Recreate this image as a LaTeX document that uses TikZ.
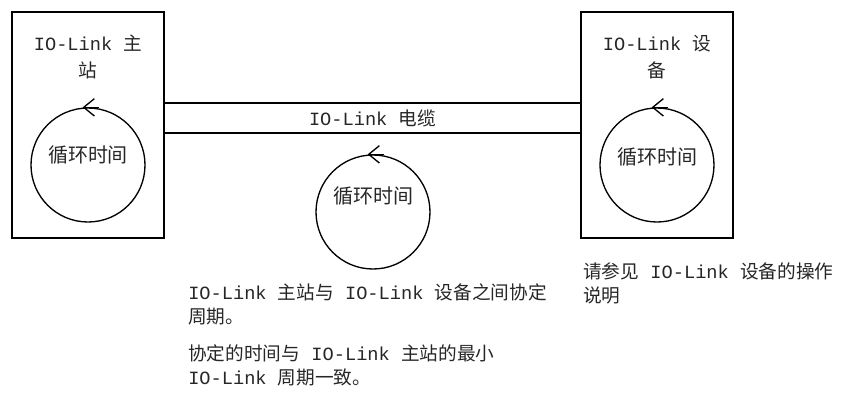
\documentclass[tikz,border=0pt]{standalone}
\usepackage{fontspec}
\setmainfont{Liberation Mono}
\newfontfamily\cjk{Noto Sans CJK SC}
\usetikzlibrary{arrows.meta}
\newcommand{\zh}[1]{{\cjk #1}}

\begin{document}
\begin{tikzpicture}[
    x=0.75pt, y=-0.75pt,
    font=\fontsize{14}{18}\selectfont,
    every node/.style={text=black!85},
    unit/.style={
      draw, line width=1.2pt,
      minimum width=114pt, minimum height=169.5pt,
      inner sep=0pt
    },
    cycle/.style={draw, circle, line width=1pt, minimum size=85.5pt, inner sep=0pt},
    title/.style={align=center, font=\fontsize{14}{20}\selectfont},
    period/.style={font=\fontsize{15}{18}\selectfont},
    note/.style={align=left, anchor=north west, inner sep=0pt},
    turn/.style={line width=1pt, -{Straight Barb[length=8pt, width=13pt]}}
  ]
    \useasboundingbox (0,0) rectangle (844,405);

    \node[unit] (master) at (88,125) {};
    \node[unit] (device) at (657,125) {};
    \node[title] (mtitle) at (88,57) {IO-Link \zh{主}\\\zh{站}};
    \node[title] (dtitle) at (657,57) {IO-Link \zh{设}\\\zh{备}};

    \node[minimum width=312pt, minimum height=22.5pt, inner sep=0pt] (cable) at (372.5,118) {IO-Link \zh{电缆}};
    \draw[line width=1.2pt] (cable.north west) -- (cable.north east);
    \draw[line width=1.2pt] (cable.south west) -- (cable.south east);

    \node[cycle] (mcyc) at (88,165) {};
    \node[cycle] (dcyc) at (657,165) {};
    \node[cycle] (ccyc) at (373,212) {};
    \node[period] (mtime) at (88,155) {\zh{循环时间}};
    \node[period] (dtime) at (657,157) {\zh{循环时间}};
    \node[period] (ctime) at (373,196) {\zh{循环时间}};

    \draw[turn] ([xshift=8pt]mcyc.north) -- ([xshift=-4pt]mcyc.north);
    \draw[turn] ([xshift=8pt]dcyc.north) -- ([xshift=-4pt]dcyc.north);
    \draw[turn] ([xshift=8pt]ccyc.north) -- ([xshift=-4pt]ccyc.north);

    \node[note] (devnote) at (583,262) {\zh{请参见} IO-Link \zh{设备的操作}\\\zh{说明}};
    \node[note] (agree) at (188,283) {IO-Link \zh{主站与} IO-Link \zh{设备之间协定}\\\zh{周期。}};
    \node[note] (match) at (188,344) {\zh{协定的时间与} IO-Link \zh{主站的最小}\\IO-Link \zh{周期一致。}};
  \end{tikzpicture}
\end{document}
